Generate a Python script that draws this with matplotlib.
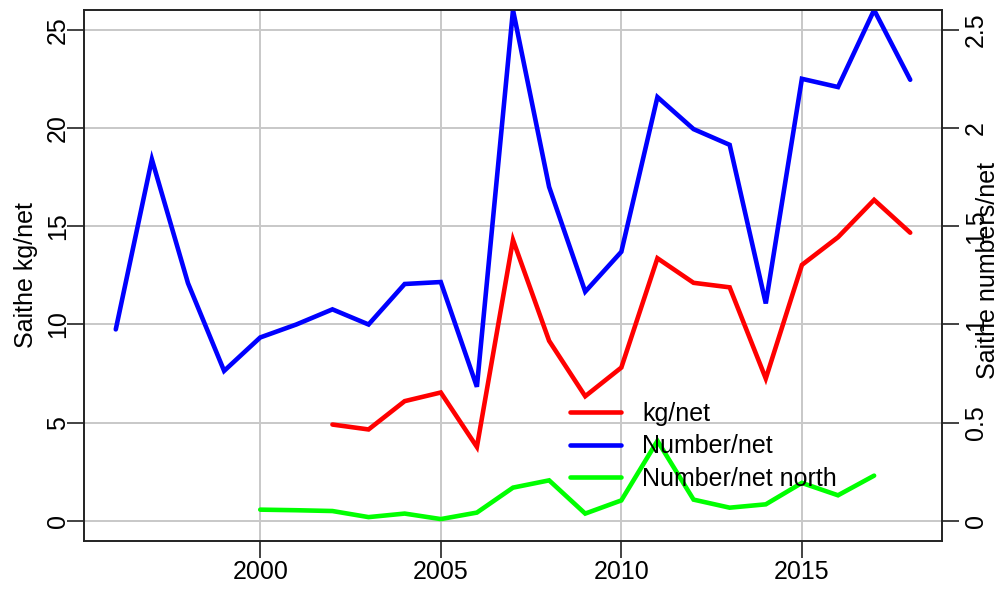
import matplotlib
matplotlib.use("Agg")
import matplotlib.pyplot as plt

plt.rcParams['font.family'] = ['Liberation Sans', 'DejaVu Sans']

years_num = list(range(1996, 2019))
number_per_net = [0.975, 1.84, 1.21, 0.764, 0.934, 1.0, 1.077, 1.0, 1.206, 1.216, 0.683,
                  2.6, 1.70, 1.167, 1.37, 2.157, 1.994, 1.914, 1.107, 2.25, 2.208, 2.6, 2.245]

years_kg = list(range(2002, 2019))
kg_per_net = [4.91, 4.66, 6.10, 6.54, 3.77, 14.30, 9.17, 6.35, 7.81, 13.37, 12.12, 11.89,
              7.25, 13.03, 14.44, 16.34, 14.67]

years_north = list(range(2000, 2018))
number_north = [0.058, 0.055, 0.051, 0.020, 0.038, 0.010, 0.043, 0.170, 0.207, 0.038,
                0.105, 0.408, 0.109, 0.068, 0.085, 0.194, 0.131, 0.231]

x_ticks = [2000, 2005, 2010, 2015]
left_ticks = [0, 5, 10, 15, 20, 25]
right_ticks = [0, 0.5, 1, 1.5, 2, 2.5]
right_labels = ['0', '0.5', '1', '1.5', '2', '2.5']

FS = 18
fig = plt.figure(figsize=(10.07, 5.92), dpi=100)
ax = fig.add_axes([84/1007, 51.3/592, (942-84)/1007, (540.7-10)/592])
ax2 = ax.twinx()

ax.set_xlim(1995.12, 2018.88)
ax.set_ylim(-1, 26)
ax2.set_ylim(-0.1, 2.6)

ax.grid(True, color='#c8c8c8', lw=1.4)
ax.set_axisbelow(True)

l1, = ax.plot(years_kg, kg_per_net, color='#ff0000', lw=3.3, solid_capstyle='round', solid_joinstyle='miter')
l2, = ax2.plot(years_num, number_per_net, color='#0000ff', lw=3.3, solid_capstyle='round', solid_joinstyle='miter')
l3, = ax2.plot(years_north, number_north, color='#00ff00', lw=3.3, solid_capstyle='round', solid_joinstyle='miter')

ax.set_xticks(x_ticks)
ax.set_xticklabels([str(v) for v in x_ticks], fontsize=FS)
ax.set_yticks(left_ticks)
ax.set_yticklabels([str(v) for v in left_ticks], fontsize=FS, rotation=90, va='center')
ax2.set_yticks(right_ticks)
ax2.set_yticklabels(right_labels, fontsize=FS, rotation=90, va='center')

ax.tick_params(axis='y', length=12, width=1.2, color='#222222', direction='out', pad=-2)
ax.tick_params(axis='x', length=12, width=1.2, color='#222222', direction='out', pad=2)
ax2.tick_params(axis='y', length=12, width=1.2, color='#222222', direction='out', pad=4)

for a in (ax, ax2):
    for s in a.spines.values():
        s.set_linewidth(1.2)
        s.set_color('#222222')

ax.set_ylabel('Saithe kg/net', fontsize=FS, labelpad=6)
fig.text(988/1007, 1 - 270/592, 'Saithe numbers/net', rotation=90, fontsize=FS,
         ha='center', va='center')

leg = ax2.legend([l1, l2, l3], ['kg/net', 'Number/net', 'Number/net north'],
                 loc='upper left', bbox_to_anchor=(570/1007, 1 - 402/592),
                 bbox_transform=fig.transFigure, frameon=False, fontsize=FS,
                 handlelength=2.05, handletextpad=0.85, labelspacing=0.33,
                 borderpad=0, borderaxespad=0)

fig.savefig('out.png', dpi=100)
